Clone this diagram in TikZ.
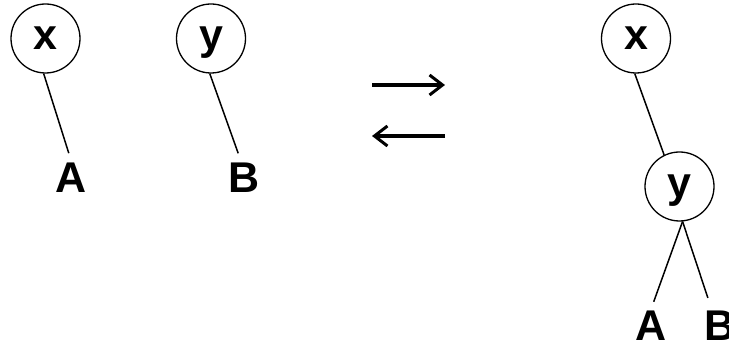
\documentclass[tikz,border=0pt]{standalone}
\usepackage{fontspec}
\setmainfont{Liberation Sans}
\usetikzlibrary{arrows.meta}
\begin{document}
\begin{tikzpicture}[x=1pt,y=-1pt,
  vertex/.style={circle,draw,line width=1.3pt,minimum size=69pt,inner sep=0pt,
    font=\fontsize{43}{43}\selectfont\bfseries,text height=22pt,text depth=0pt},
  leaf/.style={inner sep=0pt,font=\fontsize{43}{43}\selectfont\bfseries,
    text height=31pt,text depth=0pt},
  edge/.style={line width=1.5pt},
  bigarrow/.style={line width=4.5pt,-{Straight Barb[length=13pt,width=20pt,line width=3pt]}}]
\useasboundingbox (0,0) rectangle (729,347);
% left trees
\node[vertex] (x1) at (45.5,38.5) {x};
\node[leaf] (A1) at (71.5,177.5) {A};
\node[vertex] (y1) at (211,38.5) {y};
\node[leaf] (B1) at (244,177.5) {B};
\draw[edge,shorten >=9pt] (x1.-93) -- (A1.north);
\draw[edge,shorten >=9pt] (y1.-92) -- (B1.100);
% arrows
\coordinate (r1) at (372,85);
\coordinate (r2) at (445,85);
\coordinate (l1) at (445,136);
\coordinate (l2) at (372,136);
\draw[bigarrow] (r1) -- (r2);
\draw[bigarrow] (l1) -- (l2);
% right tree
\node[vertex] (x2) at (636,38.5) {x};
\node[vertex] (y2) at (679.5,186.5) {y};
\node[leaf] (A2) at (651,325) {A};
\node[leaf] (B2) at (720,325) {B};
\draw[edge] (x2.-92) -- (y2.116);
\draw[edge,shorten >=8pt] (y2.-85) -- (A2.north);
\draw[edge,shorten >=12pt] (y2.-85) -- (B2.118);
\end{tikzpicture}
\end{document}
